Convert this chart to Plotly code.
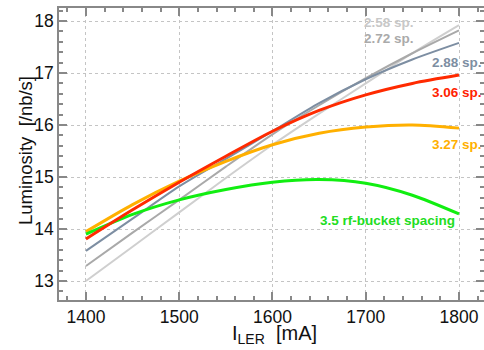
import plotly.graph_objects as go

current_mA = [1400, 1450, 1500, 1550, 1600, 1650, 1700, 1750, 1800]

lumi_258 = [13.00, 13.66, 14.32, 14.98, 15.62, 16.22, 16.80, 17.38, 17.92]
lumi_272 = [13.29, 13.93, 14.56, 15.20, 15.82, 16.38, 16.90, 17.38, 17.82]
lumi_288 = [13.58, 14.20, 14.82, 15.35, 15.88, 16.42, 16.88, 17.26, 17.58]
lumi_306 = [13.81, 14.37, 14.90, 15.40, 15.88, 16.28, 16.58, 16.80, 16.96]
lumi_327 = [13.95, 14.47, 14.92, 15.30, 15.62, 15.84, 15.96, 16.00, 15.94]
lumi_350 = [13.90, 14.28, 14.56, 14.76, 14.90, 14.95, 14.88, 14.65, 14.29]

series = [
    ("2.58 sp.", lumi_258, "#cfcfcf", 2.0),
    ("2.72 sp.", lumi_272, "#a9a9a9", 2.0),
    ("2.88 sp.", lumi_288, "#7d8ea2", 2.0),
    ("3.27 sp.", lumi_327, "#ffb000", 3.0),
    ("3.5 rf-bucket spacing", lumi_350, "#11ee11", 3.0),
    ("3.06 sp.", lumi_306, "#ff2a00", 3.0),
]

fig = go.Figure()
for name, ys, col, w in series:
    fig.add_trace(go.Scatter(x=current_mA, y=ys, mode="lines", name=name,
                             line=dict(color=col, width=w, shape="spline", smoothing=0.8),
                             showlegend=False, hoverinfo="skip"))

lab_font = "Liberation Sans, Arial, sans-serif"
labels = [
    ("2.58 sp.", 1753, 17.98, "#c8c8c8", "x"),
    ("2.72 sp.", 1753, 17.67, "#aaaaaa", "x"),
    ("2.88 sp.", 0.998, 17.21, "#7d8ea2", "paper"),
    ("3.06 sp.", 0.998, 16.63, "#ff2200", "paper"),
    ("3.27 sp.", 0.998, 15.63, "#ffb000", "paper"),
    ("3.5 rf-bucket spacing", 1797, 14.17, "#22dd22", "x"),
]
for txt, x, y, col, xr in labels:
    fig.add_annotation(x=x, y=y, xref=xr, yref="y", text="<b>%s</b>" % txt,
                       showarrow=False, xanchor="right", yanchor="middle", borderpad=0,
                       font=dict(family=lab_font, size=13.5, color=col))

# axis titles
fig.add_annotation(x=-0.08, y=0.51, xref="paper", yref="paper", text="Luminosity  [/nb/s]",
                   textangle=-90, showarrow=False, xanchor="center", yanchor="middle",
                   font=dict(family=lab_font, size=18.5, color="#111111"))
fig.add_annotation(x=0.508, y=-0.118, xref="paper", yref="paper", text="I<sub>LER</sub>  [mA]",
                   showarrow=False, xanchor="center", yanchor="middle",
                   font=dict(family=lab_font, size=20, color="#111111"))

axis_common = dict(
    showline=True, linecolor="#888888", linewidth=1.5, mirror="ticks",
    ticks="inside", ticklen=8, tickwidth=1.5, tickcolor="#888888",
    showgrid=True, gridcolor="#c4c4c4", griddash="dot", gridwidth=1,
    zeroline=False, automargin=False,
    tickfont=dict(family=lab_font, size=17.5, color="#111111"),
)

fig.update_xaxes(range=[1371.1, 1826.8], tickvals=[1400, 1500, 1600, 1700, 1800],
                 minor=dict(ticks="inside", ticklen=4, tickcolor="#888888", dtick=20, tick0=1400, showgrid=False),
                 **axis_common)
fig.update_yaxes(range=[12.635, 18.25], tickvals=[13, 14, 15, 16, 17, 18],
                 minor=dict(ticks="inside", ticklen=4, tickcolor="#888888", dtick=0.2, tick0=13, showgrid=False),
                 **axis_common)

fig.update_layout(width=484, height=350, margin=dict(l=59, r=0, t=8, b=50),
                  plot_bgcolor="white", paper_bgcolor="white")

# remove the default page margin so the 484x350 figure fills the window exactly
fig.write_html("out.html", config={"displayModeBar": False},
               post_script="document.body.style.margin='0';document.body.style.overflow='hidden';")
